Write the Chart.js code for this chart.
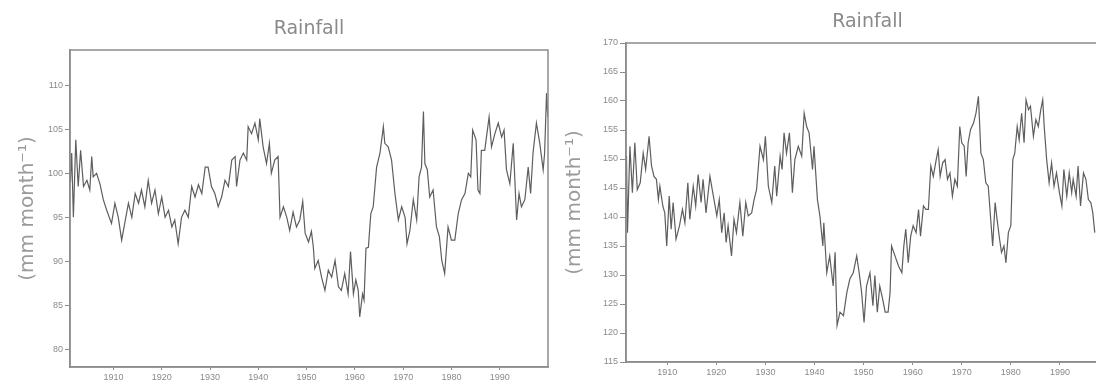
<!DOCTYPE html>
<html>
<head>
<meta charset="utf-8">
<script src="https://cdn.jsdelivr.net/npm/chart.js@4"></script>
<style>
  html, body { margin: 0; padding: 0; background: #fff; overflow: hidden; }
  body { width: 1096px; height: 384px; position: relative; }
  .painel { position: absolute; top: 0; height: 384px; }
  #esq { left: 0; width: 560px; }
  #dir { left: 548px; width: 584px; }
</style>
</head>
<body>
<div class="painel" id="esq"><canvas id="graficoEsq"></canvas></div>
<div class="painel" id="dir"><canvas id="graficoDir"></canvas></div>
<script>
// =========================================================
// 1. DADOS
// =========================================================
const decadas = [1910, 1920, 1930, 1940, 1950, 1960, 1970, 1980, 1990];
const ticksEsq = [80, 85, 90, 95, 100, 105, 110];
const ticksDir = [115, 120, 125, 130, 135, 140, 145, 150, 155, 160, 165, 170];

// painel da esquerda
const anosEsq = [
  1901.1, 1901.35, 1901.7, 1902.2, 1902.7, 1903.2, 1903.8, 1904.5, 1905.1, 1905.5,
  1905.8, 1906.5, 1907.2, 1907.9, 1908.6, 1909.6, 1910.3, 1911.0, 1911.7, 1912.4,
  1913.1, 1913.8, 1914.5, 1915.2, 1915.8, 1916.5, 1917.2, 1917.9, 1918.6, 1919.3,
  1920.0, 1920.7, 1921.4, 1922.1, 1922.7, 1923.4, 1924.1, 1924.8, 1925.5, 1926.2,
  1926.9, 1927.6, 1928.3, 1929.0, 1929.6, 1930.3, 1931.0, 1931.7, 1932.4, 1933.1,
  1933.8, 1934.5, 1935.2, 1935.5, 1936.2, 1936.9, 1937.6, 1937.9, 1938.6, 1939.3,
  1940.0, 1940.3, 1941.0, 1941.7, 1942.3, 1942.7, 1943.4, 1944.1, 1944.5, 1945.2,
  1945.9, 1946.5, 1947.2, 1947.9, 1948.6, 1949.2, 1949.7, 1950.4, 1951.0, 1951.4,
  1951.7, 1952.4, 1953.1, 1953.8, 1954.5, 1955.2, 1955.9, 1956.6, 1957.2, 1957.9,
  1958.6, 1959.1, 1959.7, 1960.2, 1960.7, 1961.0, 1961.6, 1961.9, 1962.3, 1962.8,
  1963.3, 1963.8, 1964.5, 1965.2, 1965.9, 1966.2, 1966.9, 1967.6, 1968.3, 1969.0,
  1969.7, 1970.4, 1970.8, 1971.4, 1972.1, 1972.8, 1973.3, 1973.8, 1974.2, 1974.5,
  1975.0, 1975.5, 1976.2, 1976.9, 1977.5, 1978.0, 1978.6, 1979.3, 1980.0, 1980.7,
  1981.4, 1982.1, 1982.8, 1983.5, 1984.0, 1984.4, 1985.1, 1985.5, 1985.9, 1986.2,
  1986.9, 1987.8, 1988.3, 1989.0, 1989.7, 1990.4, 1990.9, 1991.4, 1992.1, 1992.8,
  1993.5, 1994.0, 1994.5, 1995.2, 1995.9, 1996.4, 1996.9, 1997.6, 1998.3, 1999.0,
  1999.3, 1999.7, 1999.95
];
const chuvaEsq = [
  99.0, 102.3, 95.0, 103.8, 98.5, 102.6, 98.5, 99.2, 98.1, 101.9,
  99.6, 100.0, 98.8, 97.0, 95.8, 94.3, 96.6, 95.0, 92.4, 94.5,
  96.6, 95.0, 97.7, 96.6, 98.1, 96.2, 99.2, 96.6, 98.1, 95.4,
  97.3, 95.0, 95.8, 93.9, 94.7, 92.0, 95.0, 95.8, 95.0, 98.5,
  97.3, 98.7, 97.7, 100.7, 100.7, 98.5, 97.7, 96.2, 97.3, 99.2,
  98.5, 101.5, 101.9, 98.5, 101.5, 102.3, 101.5, 105.3, 104.5, 105.7,
  103.8, 106.2, 103.0, 101.1, 103.4, 100.0, 101.5, 101.9, 95.0, 96.2,
  95.0, 93.5, 95.6, 93.9, 94.7, 96.8, 93.2, 92.2, 93.4, 91.6,
  89.2, 90.1, 88.2, 86.7, 89.0, 88.2, 90.1, 87.1, 86.7, 88.6,
  86.3, 91.1, 86.3, 87.9, 86.7, 83.7, 86.3, 85.6, 91.5, 91.6,
  95.4, 96.2, 100.7, 102.3, 105.3, 103.4, 103.0, 101.5, 97.7, 94.7,
  96.2, 95.0, 92.0, 93.5, 97.0, 94.7, 99.6, 100.7, 107.0, 101.1,
  100.4, 97.3, 98.1, 93.9, 92.8, 90.1, 88.6, 93.9, 92.4, 92.4,
  95.4, 97.0, 97.7, 100.0, 99.6, 104.9, 103.8, 98.1, 97.7, 102.6,
  102.6, 106.4, 103.0, 104.5, 105.7, 104.1, 104.9, 100.4, 98.8, 103.4,
  94.7, 97.7, 96.2, 97.0, 100.7, 97.7, 102.3, 105.7, 103.4, 100.4,
  102.3, 109.1, 106.4
];

// painel da direita
const anosDir = [
  1901.7, 1901.9, 1902.4, 1902.9, 1903.4, 1903.9, 1904.5, 1905.1, 1905.6, 1906.3,
  1906.8, 1907.3, 1907.8, 1908.2, 1908.5, 1909.1, 1909.5, 1909.9, 1910.4, 1910.8,
  1911.2, 1911.8, 1912.5, 1913.1, 1913.6, 1914.2, 1914.6, 1915.3, 1915.8, 1916.3,
  1916.9, 1917.3, 1917.9, 1918.7, 1919.4, 1920.1, 1920.6, 1921.1, 1921.6, 1922.0,
  1922.4, 1923.1, 1923.6, 1924.1, 1924.8, 1925.4, 1926.0, 1926.5, 1927.2, 1927.7,
  1928.2, 1928.9, 1929.6, 1930.0, 1930.6, 1931.3, 1931.9, 1932.3, 1933.0, 1933.4,
  1933.8, 1934.3, 1934.9, 1935.5, 1936.0, 1936.7, 1937.4, 1937.9, 1938.4, 1938.9,
  1939.6, 1939.9, 1940.6, 1941.1, 1941.7, 1941.9, 1942.5, 1943.1, 1943.8, 1944.2,
  1944.6, 1945.2, 1945.9, 1946.6, 1947.2, 1947.9, 1948.6, 1949.1, 1949.6, 1950.1,
  1950.6, 1951.3, 1951.9, 1952.3, 1952.8, 1953.3, 1953.9, 1954.4, 1955.0, 1955.4,
  1955.7, 1956.4, 1957.1, 1957.8, 1958.2, 1958.6, 1959.1, 1959.6, 1960.1, 1960.7,
  1961.2, 1961.6, 1962.2, 1962.7, 1963.2, 1963.7, 1964.2, 1964.8, 1965.2, 1965.6,
  1966.1, 1966.6, 1967.1, 1967.6, 1968.1, 1968.6, 1969.1, 1969.6, 1970.0, 1970.5,
  1970.9, 1971.3, 1971.8, 1972.4, 1972.9, 1973.4, 1973.9, 1974.4, 1974.9, 1975.4,
  1975.9, 1976.3, 1976.8, 1977.2, 1977.7, 1978.1, 1978.6, 1979.0, 1979.5, 1980.0,
  1980.4, 1980.8, 1981.3, 1981.7, 1982.2, 1982.7, 1983.1, 1983.6, 1984.0, 1984.6,
  1985.1, 1985.6, 1986.1, 1986.5, 1986.8, 1987.3, 1987.8, 1988.3, 1988.8, 1989.3,
  1989.9, 1990.4, 1990.8, 1991.4, 1991.9, 1992.4, 1992.7, 1993.3, 1993.7, 1994.2,
  1994.8, 1995.3, 1995.8, 1996.3, 1996.7, 1997.1
];
const chuvaDir = [
  150.5, 137.3, 152.2, 144.2, 152.8, 144.7, 145.9, 151.0, 148.2, 153.9,
  148.8, 147.0, 146.5, 143.0, 145.3, 141.9, 140.7, 135.0, 143.6, 137.9,
  142.5, 136.2, 138.5, 141.3, 139.0, 145.9, 139.6, 145.3, 141.9, 147.3,
  142.5, 146.5, 140.7, 147.0, 143.6, 140.2, 143.0, 137.3, 140.7, 135.6,
  138.5, 133.3, 139.6, 137.3, 142.5, 136.7, 142.5, 140.2, 140.7, 143.0,
  144.7, 152.2, 149.9, 153.9, 145.3, 142.5, 148.8, 143.6, 150.5, 148.2,
  154.5, 151.0, 154.5, 144.2, 149.9, 152.2, 150.5, 157.9, 155.6, 154.5,
  148.2, 152.2, 143.0, 140.2, 135.0, 139.0, 130.4, 133.3, 128.1, 133.9,
  121.3, 123.6, 123.0, 127.0, 129.3, 130.4, 133.3, 130.4, 127.0, 121.8,
  128.1, 130.4, 124.7, 129.9, 123.6, 128.1, 125.8, 123.6, 123.6, 127.0,
  135.0, 133.3, 131.6, 130.4, 135.0, 137.9, 132.1, 136.7, 138.5, 137.3,
  141.3, 136.7, 141.9, 141.3, 141.3, 148.8, 147.0, 149.9, 151.6, 147.0,
  149.3, 149.9, 146.5, 147.6, 143.6, 146.5, 145.3, 155.6, 152.8, 152.2,
  147.0, 152.8, 155.1, 156.2, 157.9, 160.8, 151.0, 149.9, 145.9, 145.3,
  139.6, 135.0, 142.5, 139.6, 136.2, 133.9, 135.0, 132.1, 137.3, 138.5,
  149.9, 151.0, 155.6, 153.3, 157.9, 152.8, 160.2, 158.5, 159.1, 153.9,
  156.8, 155.6, 158.5, 160.2, 155.6, 149.9, 145.9, 149.3, 145.3, 147.6,
  144.2, 141.9, 148.2, 143.6, 147.6, 144.2, 146.5, 143.6, 148.8, 141.9,
  147.6, 146.5, 143.0, 142.5, 140.7, 137.3
];

// =========================================================
// 2. ESTILO COMUM
// =========================================================
const corEixo = '#8c8c8c';
const corTexto = '#8a8a8a';
const corTituloY = '#9a9a9a';
const corLinha = '#5e5e5e';

// desenha a moldura completa (topo e direita também)
const moldura = {
  id: 'moldura',
  afterDatasetsDraw(chart) {
    const { ctx, chartArea: a } = chart;
    ctx.save();
    ctx.strokeStyle = corEixo;
    ctx.lineWidth = 1.5;
    ctx.strokeRect(a.left, a.top, a.right - a.left, a.bottom - a.top);
    ctx.restore();
  }
};

function criarGrafico(idCanvas, anos, valores, ticksY, cfg) {
  const pontos = anos.map((ano, i) => ({ x: ano, y: valores[i] }));
  return new Chart(document.getElementById(idCanvas), {
    type: 'line',
    data: {
      datasets: [{
        data: pontos,
        borderColor: corLinha,
        borderWidth: 1.2,
        pointRadius: 0,
        tension: 0,
        fill: false
      }]
    },
    options: {
      responsive: true,
      maintainAspectRatio: false,
      animation: false,
      layout: { padding: { left: 0, right: cfg.padDir, top: 0, bottom: 0 } },
      plugins: {
        legend: { display: false },
        tooltip: { enabled: false },
        title: {
          display: true,
          text: 'Rainfall',
          fullSize: false,
          color: corTexto,
          font: { family: 'DejaVu Sans', size: 19, weight: 'normal' },
          padding: { top: cfg.tituloTopo, bottom: cfg.tituloBase }
        }
      },
      scales: {
        x: {
          type: 'linear',
          min: cfg.xMin,
          max: cfg.xMax,
          afterBuildTicks: s => { s.ticks = decadas.map(v => ({ value: v })); },
          afterFit: s => { s.height = cfg.alturaX; },
          grid: { drawOnChartArea: false, drawTicks: true, tickLength: 3, color: corEixo },
          border: { color: corEixo, width: 1.5 },
          ticks: {
            autoSkip: false, maxRotation: 0, padding: 2, color: corTexto,
            font: { family: 'Liberation Sans', size: 9 },
            callback: v => String(v)
          }
        },
        y: {
          min: cfg.yMin,
          max: cfg.yMax,
          afterBuildTicks: s => { s.ticks = ticksY.map(v => ({ value: v })); },
          afterFit: s => { s.width = cfg.larguraY; },
          grid: { drawOnChartArea: false, drawTicks: true, tickLength: cfg.tickY, color: corEixo },
          border: { color: corEixo, width: 1.5 },
          ticks: {
            autoSkip: false, padding: 2, color: corTexto,
            font: { family: 'Liberation Sans', size: 9 }
          },
          title: {
            display: true,
            text: '(mm month⁻¹)',
            color: corTituloY,
            font: { family: 'DejaVu Sans', size: 20, weight: 'normal' },
            padding: { top: cfg.padTituloY, bottom: 0 }
          }
        }
      }
    },
    plugins: [moldura]
  });
}

// =========================================================
// 3. DESENHAR OS DOIS PAINÉIS
// =========================================================
criarGrafico('graficoEsq', anosEsq, chuvaEsq, ticksEsq, {
  xMin: 1901, xMax: 2000, yMin: 78, yMax: 114,
  padDir: 12, larguraY: 70, alturaX: 17, tickY: 5,
  tituloTopo: 18, tituloBase: 9.2, padTituloY: 16
});

criarGrafico('graficoDir', anosDir, chuvaDir, ticksDir, {
  xMin: 1901.6, xMax: 2000, yMin: 115, yMax: 170,
  padDir: 23, larguraY: 78, alturaX: 22, tickY: 6,
  tituloTopo: 10.6, tituloBase: 9.6, padTituloY: 14.6
});
</script>
</body>
</html>
